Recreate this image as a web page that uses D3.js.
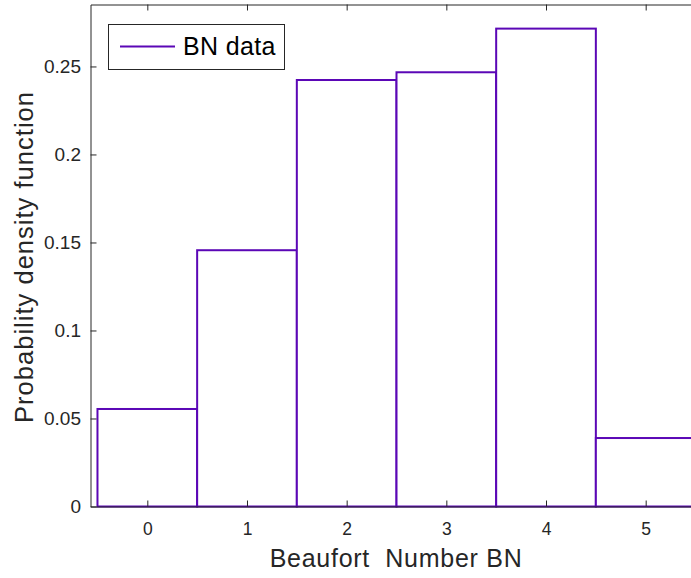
<!DOCTYPE html>
<html>
<head>
<meta charset="utf-8">
<script src="https://cdn.jsdelivr.net/npm/d3@7"></script>
<style>
  html, body { margin: 0; padding: 0; background: #fff; }
  svg { display: block; font-family: "Liberation Sans", Arial, Helvetica, sans-serif; }
</style>
</head>
<body>
<svg id="chart" width="691" height="578"></svg>
<script>
// Beaufort number bins and their probability density
const beaufort = [0, 1, 2, 3, 4, 5];
const density = [0.0554, 0.1456, 0.2423, 0.2467, 0.2715, 0.0389];
const xTicks = [0, 1, 2, 3, 4, 5];
const yTicks = [0, 0.05, 0.1, 0.15, 0.2, 0.25];
const yTickLabels = ["0", "0.05", "0.1", "0.15", "0.2", "0.25"];
const seriesName = "BN data";

const plot = { left: 90.5, top: 4.5, right: 702.5, bottom: 506.5 };
const barColor = "#5b07b6";
const axisColor = "#262626";

const svg = d3.select("#chart");

const x = d3.scaleLinear().domain([-0.57, 5.57]).range([plot.left, plot.right]);
const y = d3.scaleLinear().domain([0, 0.2852]).range([plot.bottom, plot.top]);

// Histogram bars: unit-width bins centred on each Beaufort number
svg.append("g").selectAll("rect")
  .data(beaufort)
  .join("rect")
  .attr("x", (d) => x(d - 0.5))
  .attr("y", (d, i) => y(density[i]))
  .attr("width", (d) => x(d + 0.5) - x(d - 0.5))
  .attr("height", (d, i) => y(0) - y(density[i]))
  .attr("fill", "#fff")
  .attr("stroke", barColor)
  .attr("stroke-width", 2);

// Axes with inward ticks, plus the box edge on top
const tickLen = 6;
const xAxis = d3.axisBottom(x).tickValues(xTicks).tickSizeInner(-tickLen).tickSizeOuter(0).tickPadding(16).tickFormat(d3.format("d"));
const xTop = d3.axisTop(x).tickValues(xTicks).tickSizeInner(-tickLen).tickSizeOuter(0).tickFormat("");
const yAxis = d3.axisLeft(y).tickValues(yTicks).tickSizeInner(-tickLen).tickSizeOuter(0).tickPadding(9.5)
  .tickFormat((d, i) => yTickLabels[i]);

function styleAxis(size) {
  return (g) => {
    g.select(".domain").attr("stroke", axisColor).attr("stroke-width", 1);
    g.selectAll(".tick line").attr("stroke", axisColor).attr("stroke-width", 1);
    g.selectAll(".tick text").attr("fill", axisColor).style("font-size", size);
  };
}

svg.append("g").attr("transform", `translate(0,${plot.bottom})`).call(xAxis).call(styleAxis("17.5px"));
svg.append("g").attr("transform", `translate(0,${plot.top})`).call(xTop).call(styleAxis("17.5px"));
svg.append("g").attr("transform", `translate(${plot.left},0)`).call(yAxis).call(styleAxis("19px"));

// Axis titles
svg.append("text")
  .attr("x", 395.7).attr("y", 567)
  .attr("text-anchor", "middle")
  .attr("fill", axisColor)
  .attr("xml:space", "preserve")
  .attr("textLength", 252)
  .attr("lengthAdjust", "spacing")
  .style("font-size", "25px")
  .text("Beaufort  Number BN");

svg.append("text")
  .attr("transform", "translate(33,257.5) rotate(-90)")
  .attr("text-anchor", "middle")
  .attr("fill", axisColor)
  .attr("textLength", 331)
  .attr("lengthAdjust", "spacing")
  .style("font-size", "25.5px")
  .text("Probability density function");

// Legend
const lg = svg.append("g");
lg.append("rect")
  .attr("x", 108.5).attr("y", 24.5).attr("width", 176).attr("height", 45)
  .attr("fill", "#fff").attr("stroke", axisColor).attr("stroke-width", 1);
lg.append("line")
  .attr("x1", 120).attr("x2", 175).attr("y1", 46.5).attr("y2", 46.5)
  .attr("stroke", barColor).attr("stroke-width", 2);
lg.append("text")
  .attr("x", 183).attr("y", 55)
  .attr("fill", "#000")
  .attr("textLength", 92.5)
  .attr("lengthAdjust", "spacing")
  .style("font-size", "25px")
  .text(seriesName);
</script>
</body>
</html>
